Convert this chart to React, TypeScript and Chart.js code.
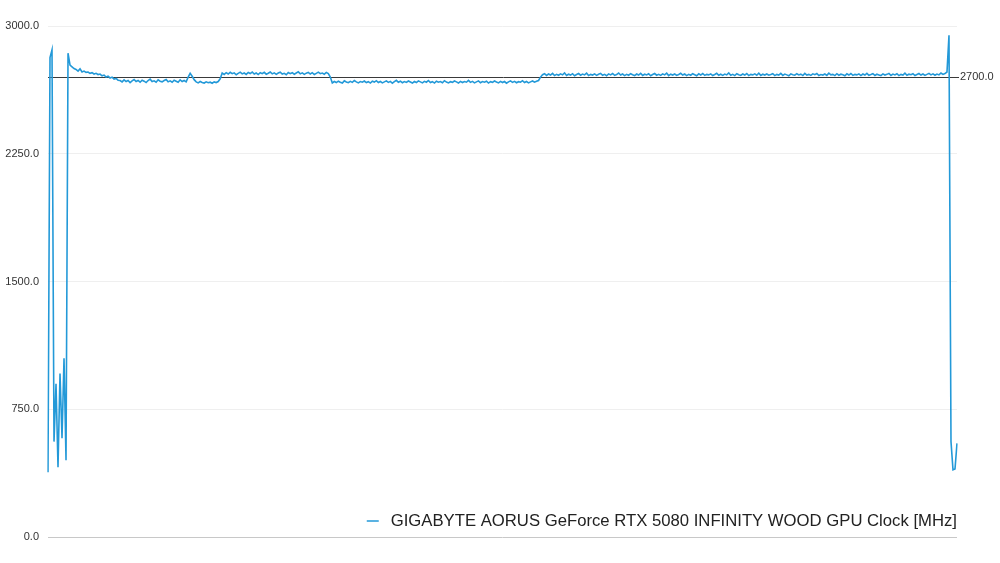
import React, { useEffect, useRef } from "react";
import { Chart, registerables } from "chart.js";

Chart.register(...registerables);

const SERIES_LABEL = "GIGABYTE AORUS GeForce RTX 5080 INFINITY WOOD GPU Clock [MHz]";
const Y_TICKS = [0, 750, 1500, 2250, 3000];
const REFERENCE_VALUE = 2700;

// Start-up burst and initial boost decay
const startClock = [
  380, 2815, 2860, 560, 900, 410, 960, 580, 1050, 450,
  2840, 2770, 2760, 2750, 2745, 2735, 2748, 2730, 2735, 2728,
  2730, 2722, 2726, 2718, 2722, 2715, 2718, 2708, 2712, 2700,
  2705, 2695, 2700, 2688, 2692, 2682,
];
// First low plateau
const plateau1 = [
  2680, 2672, 2684, 2674, 2680, 2668, 2678, 2686, 2674, 2680, 2670, 2682,
  2676, 2668, 2680, 2688, 2674, 2678, 2670, 2684, 2676, 2672, 2680, 2686,
  2672, 2678, 2670, 2682, 2676, 2670, 2684, 2674, 2680, 2672,
];
const bump1 = [2700, 2722, 2705, 2685];
const plateau2 = [2672, 2666, 2674, 2668, 2665, 2672, 2667, 2670, 2664, 2672, 2668, 2674];
const step1 = [2690];
// High plateau
const plateau3 = [
  2724, 2716, 2726, 2718, 2728, 2720, 2725, 2714, 2722, 2729, 2719, 2724, 2716, 2727,
  2721, 2730, 2718, 2724, 2715, 2726, 2720, 2728, 2717, 2723, 2730, 2719, 2725, 2716,
  2724, 2729, 2718, 2722, 2714, 2727, 2720, 2726, 2717, 2724, 2731, 2719, 2725, 2716,
  2723, 2728, 2718, 2726, 2715, 2722, 2729, 2720, 2724, 2717, 2727, 2721,
];
const step2 = [2700];
// Long low plateau
const plateau4 = [
  2666, 2674, 2668, 2676, 2670, 2665, 2678, 2671, 2667, 2675, 2669, 2680, 2672,
  2666, 2674, 2670, 2677, 2668, 2673, 2665, 2676, 2671, 2679, 2668, 2674, 2666,
  2672, 2678, 2669, 2675, 2664, 2673, 2681, 2670, 2676, 2667, 2674, 2669, 2677,
  2671, 2665, 2674, 2668, 2678, 2672, 2666, 2675, 2670, 2680, 2668, 2673, 2665,
  2676, 2670, 2674, 2667, 2679, 2671, 2666, 2673, 2669, 2677, 2672, 2665, 2675,
  2668, 2674, 2670, 2681, 2669, 2675, 2666, 2672, 2678, 2667, 2674, 2670, 2676,
  2665, 2673, 2669, 2677, 2671, 2666, 2675, 2668, 2674, 2664, 2672, 2678, 2669,
  2675, 2667, 2673, 2670, 2679, 2668, 2674, 2666, 2672, 2677, 2670, 2675, 2680,
];
const step3 = [2700];
// Final long plateau
const plateau5 = [
  2714, 2720, 2710, 2718, 2712, 2722, 2709, 2716, 2711, 2719, 2713, 2724, 2710, 2717,
  2712, 2720, 2708, 2715, 2721, 2711, 2718, 2713, 2723, 2709, 2716, 2712, 2719, 2710,
  2717, 2722, 2711, 2716, 2708, 2719, 2713, 2721, 2710, 2715, 2724, 2712, 2718, 2709,
  2716, 2711, 2720, 2714, 2709, 2718, 2712, 2722, 2710, 2717, 2713, 2720, 2708, 2715,
  2721, 2711, 2716, 2710, 2719, 2713, 2723, 2709, 2717, 2712, 2718, 2710, 2715, 2722,
  2712, 2718, 2709, 2716, 2711, 2720, 2714, 2708, 2719, 2712, 2721, 2710, 2716, 2713,
  2719, 2709, 2715, 2722, 2711, 2717, 2710, 2718, 2713, 2724, 2711, 2716, 2709, 2720,
  2714, 2710, 2718, 2712, 2721, 2709, 2716, 2713, 2719, 2711, 2723, 2710, 2717, 2712,
  2718, 2711, 2715, 2720, 2709, 2716, 2712, 2722, 2710, 2718, 2713, 2708, 2719, 2714,
  2711, 2720, 2713, 2717, 2709, 2722, 2712, 2716, 2710, 2719, 2714, 2721, 2709, 2715,
  2712, 2718, 2710, 2723, 2713, 2716, 2709, 2720, 2711, 2717, 2714, 2708, 2719, 2712,
  2721, 2710, 2716, 2713, 2719, 2709, 2718, 2712, 2722, 2711, 2715, 2720, 2710, 2717,
  2713, 2709, 2719, 2712, 2716, 2721, 2710, 2718, 2713, 2720, 2709, 2716, 2712, 2723,
  2711, 2717, 2714, 2720, 2709, 2715, 2721, 2712, 2718, 2710, 2716, 2722, 2713, 2719,
  2711, 2718, 2713, 2724, 2716, 2721,
];
// Final boost spike and drop to idle
const endClock = [2730, 2945, 560, 395, 400, 550];

const clockValues = [
  ...startClock, ...plateau1, ...bump1, ...plateau2, ...step1, ...plateau3,
  ...step2, ...plateau4, ...step3, ...plateau5, ...endClock,
];
const sampleLabels = clockValues.map((_, i) => String(i));

const LINE_COLOR = "#2399d8";
const FONT_FAMILY = '"Liberation Sans", Arial, Helvetica, sans-serif';

const overlayPlugin = {
  id: "overlay",
  beforeDatasetsDraw(chart: any) {
    const { ctx, chartArea, scales } = chart;
    const y = Math.round(scales.y.getPixelForValue(REFERENCE_VALUE)) + 0.5;
    ctx.save();
    ctx.strokeStyle = "#3a3a3a";
    ctx.lineWidth = 1;
    ctx.beginPath();
    ctx.moveTo(chartArea.left, y);
    ctx.lineTo(chartArea.right + 2, y);
    ctx.stroke();
    ctx.restore();
  },
  afterDraw(chart: any) {
    const { ctx, chartArea, scales } = chart;
    ctx.save();
    const y = scales.y.getPixelForValue(REFERENCE_VALUE);
    ctx.font = `11px ${FONT_FAMILY}`;
    ctx.fillStyle = "#333333";
    ctx.textAlign = "left";
    ctx.textBaseline = "middle";
    ctx.fillText(REFERENCE_VALUE.toFixed(1), chartArea.right + 3, y);
    ctx.font = `16.7px ${FONT_FAMILY}`;
    const w = ctx.measureText(SERIES_LABEL).width;
    const textX = chartArea.right - w;
    const ly = chartArea.bottom - 16;
    ctx.fillStyle = "#222222";
    ctx.fillText(SERIES_LABEL, textX, ly);
    ctx.strokeStyle = LINE_COLOR;
    ctx.lineWidth = 1.5;
    ctx.beginPath();
    ctx.moveTo(textX - 24, ly);
    ctx.lineTo(textX - 12, ly);
    ctx.stroke();
    ctx.restore();
  },
};

export default function App() {
  const canvasRef = useRef<HTMLCanvasElement | null>(null);

  useEffect(() => {
    if (!canvasRef.current) return;
    const chart = new Chart(canvasRef.current, {
      type: "line",
      data: {
        labels: sampleLabels,
        datasets: [
          {
            label: SERIES_LABEL,
            data: clockValues,
            borderColor: LINE_COLOR,
            backgroundColor: LINE_COLOR,
            borderWidth: 1.6,
            pointRadius: 0,
            tension: 0,
            fill: false,
          },
        ],
      },
      options: {
        animation: false,
        responsive: false,
        devicePixelRatio: 1,
        layout: { padding: { left: 0, right: 43, top: 26, bottom: 26 } },
        plugins: {
          legend: { display: false },
          tooltip: { enabled: false },
        },
        scales: {
          x: { display: false, offset: false },
          y: {
            min: 0,
            max: 3000,
            afterBuildTicks(scale: any) {
              scale.ticks = Y_TICKS.map((v) => ({ value: v }));
            },
            afterFit(scale: any) {
              scale.width = 48;
            },
            border: { display: false },
            grid: {
              drawTicks: false,
              color: (c: any) => (c.tick && c.tick.value === 0 ? "#c8c8c8" : "#efefef"),
              lineWidth: 1,
            },
            ticks: {
              padding: 9,
              color: "#333333",
              font: { size: 11, family: FONT_FAMILY },
              callback: (v: any) => Number(v).toFixed(1),
            },
          },
        },
      },
      plugins: [overlayPlugin],
    });
    return () => chart.destroy();
  }, []);

  return (
    <div style={{ position: "fixed", left: 0, top: 0, width: 1000, height: 563, background: "#ffffff" }}>
      <canvas ref={canvasRef} width={1000} height={563} style={{ display: "block" }} />
    </div>
  );
}
